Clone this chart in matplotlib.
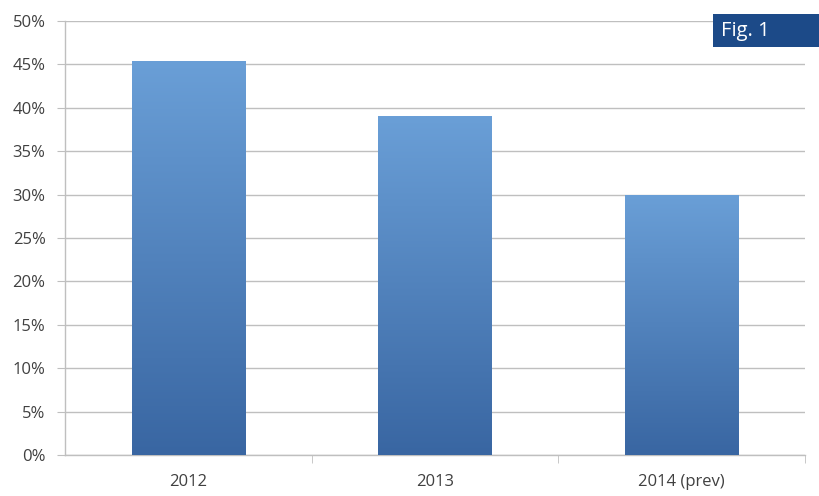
import matplotlib
matplotlib.use("Agg")
import matplotlib.pyplot as plt
import numpy as np
from matplotlib.colors import LinearSegmentedColormap
from matplotlib.patches import Rectangle

categories = ["2012", "2013", "2014 (prev)"]
values = [45.4, 39.0, 30.0]
yticks = [0, 5, 10, 15, 20, 25, 30, 35, 40, 45, 50]
ytick_labels = [f"{v}%" for v in yticks]

plt.rcParams['font.family'] = ['Open Sans', 'DejaVu Sans']

fig = plt.figure(figsize=(8.2, 4.96), dpi=100)
ax = fig.add_axes([65/820, 41/496, 740/820, 434/496])

x = np.arange(len(categories))
bars = ax.bar(x, values, width=0.46, color='none', edgecolor='none', zorder=3)

cmap = LinearSegmentedColormap.from_list("g", ["#3966a2", "#6a9fd7"])
grad = np.linspace(0, 1, 256).reshape(-1, 1)
for b in bars:
    x0, y0 = b.get_x(), b.get_y()
    w, h = b.get_width(), b.get_height()
    im = ax.imshow(grad, cmap=cmap, origin='lower', aspect='auto',
                   extent=[x0, x0 + w, y0, y0 + h], zorder=3)
    im.set_clip_path(b)

ax.set_xlim(-0.5, len(categories) - 0.5)
ax.set_ylim(0, 50)
ax.set_yticks(yticks)
ax.set_yticklabels(ytick_labels)
ax.set_xticks(x)
ax.set_xticklabels(categories)
ax.set_xticks(np.arange(len(categories)) + 0.5, minor=True)

ax.yaxis.grid(True, color='#bfbfbf', linewidth=1.0, zorder=0)
ax.set_axisbelow(True)
for s in ['top', 'right']:
    ax.spines[s].set_visible(False)
for s in ['left', 'bottom']:
    ax.spines[s].set_color('#bfbfbf')
    ax.spines[s].set_linewidth(1.0)

ax.tick_params(axis='y', length=6, color='#bfbfbf', labelsize=12, labelcolor='#404040', pad=8)
ax.tick_params(axis='x', which='major', length=0, labelsize=12, labelcolor='#404040', pad=14)
ax.tick_params(axis='x', which='minor', length=6, color='#bfbfbf')

# Fig. 1 badge
fig.patches.append(Rectangle((713/820, (496-47)/496), 107/820, 33/496,
                             transform=fig.transFigure, facecolor='#1c4a88',
                             edgecolor='none', zorder=5))
fig.text(721/820, (496-31)/496, "Fig. 1", color='white', fontsize=14.5,
         va='center', ha='left', zorder=6)

fig.savefig("out.png", dpi=100)
